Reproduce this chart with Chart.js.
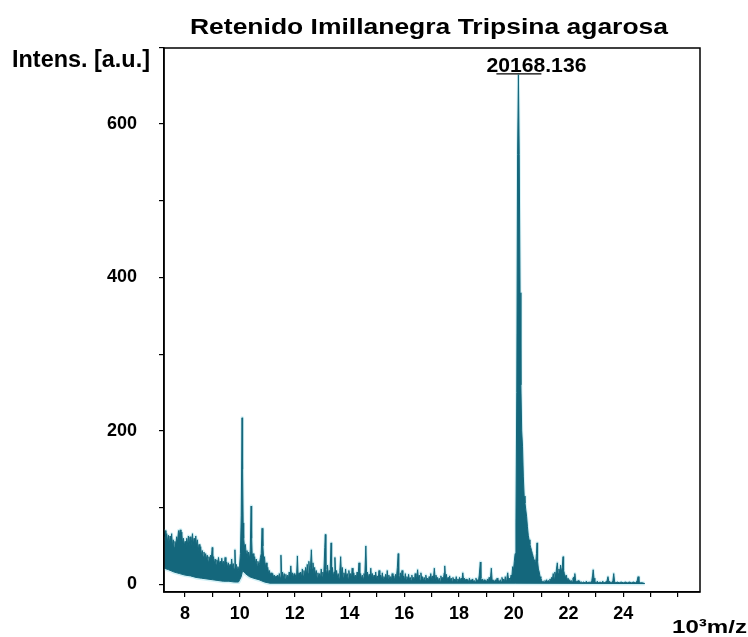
<!DOCTYPE html>
<html>
<head>
<meta charset="utf-8">
<script src="https://cdn.jsdelivr.net/npm/chart.js@4.4.1/dist/chart.umd.min.js"></script>
<style>
  html, body { margin: 0; padding: 0; background: #fff; }
  #wrap { width: 748px; height: 637px; }
</style>
</head>
<body>
<div id="wrap"><canvas id="spectrum" width="748" height="637"></canvas></div>
<script>
// spectrum: upper trace (max) and lower trace (min) of the signal
const upperMz = [
  7.24, 7.27, 7.30, 7.33, 7.36, 7.39, 7.42, 7.45, 7.48, 7.51, 7.54, 7.57, 7.60, 7.63, 7.66, 7.69,
  7.72, 7.76, 7.79, 7.82, 7.85, 7.88, 7.91, 7.94, 7.97, 8.00, 8.03, 8.06, 8.09, 8.12, 8.15, 8.18,
  8.21, 8.24, 8.27, 8.30, 8.33, 8.36, 8.39, 8.42, 8.45, 8.48, 8.51, 8.54, 8.57, 8.60, 8.63, 8.66,
  8.69, 8.72, 8.75, 8.78, 8.81, 8.84, 8.87, 8.90, 8.93, 8.96, 8.99, 9.01, 9.04, 9.07, 9.10, 9.13,
  9.16, 9.19, 9.22, 9.25, 9.28, 9.31, 9.34, 9.37, 9.40, 9.43, 9.46, 9.49, 9.52, 9.55, 9.58, 9.61,
  9.64, 9.67, 9.70, 9.73, 9.76, 9.79, 9.82, 9.84, 9.87, 9.90, 9.93, 9.96, 9.99, 10.02, 10.05, 10.08,
  10.10, 10.12, 10.14, 10.17, 10.20, 10.23, 10.26, 10.29, 10.32, 10.35, 10.38, 10.41, 10.43, 10.45, 10.48, 10.51,
  10.54, 10.57, 10.60, 10.63, 10.66, 10.69, 10.72, 10.75, 10.78, 10.81, 10.84, 10.87, 10.90, 10.93, 10.96, 10.99,
  11.02, 11.05, 11.08, 11.11, 11.14, 11.17, 11.20, 11.23, 11.26, 11.29, 11.32, 11.35, 11.38, 11.41, 11.44, 11.47,
  11.50, 11.53, 11.56, 11.59, 11.62, 11.65, 11.68, 11.71, 11.74, 11.77, 11.80, 11.83, 11.86, 11.89, 11.92, 11.95,
  11.98, 12.01, 12.04, 12.07, 12.10, 12.13, 12.16, 12.19, 12.22, 12.25, 12.28, 12.31, 12.34, 12.37, 12.40, 12.43,
  12.46, 12.49, 12.52, 12.55, 12.58, 12.61, 12.64, 12.67, 12.70, 12.73, 12.76, 12.79, 12.82, 12.85, 12.88, 12.91,
  12.94, 12.97, 13.00, 13.03, 13.06, 13.10, 13.12, 13.14, 13.17, 13.20, 13.23, 13.26, 13.29, 13.33, 13.35, 13.38,
  13.41, 13.44, 13.47, 13.50, 13.53, 13.56, 13.59, 13.62, 13.65, 13.68, 13.71, 13.74, 13.77, 13.80, 13.83, 13.86,
  13.89, 13.92, 13.95, 13.98, 14.01, 14.04, 14.07, 14.10, 14.13, 14.16, 14.19, 14.22, 14.25, 14.28, 14.31, 14.35,
  14.38, 14.41, 14.44, 14.47, 14.50, 14.53, 14.56, 14.60, 14.63, 14.66, 14.69, 14.72, 14.75, 14.78, 14.81, 14.84,
  14.87, 14.90, 14.93, 14.96, 14.99, 15.02, 15.05, 15.08, 15.11, 15.14, 15.17, 15.20, 15.23, 15.26, 15.29, 15.32,
  15.35, 15.38, 15.41, 15.44, 15.47, 15.50, 15.53, 15.56, 15.59, 15.62, 15.65, 15.68, 15.71, 15.75, 15.78, 15.80,
  15.83, 15.86, 15.89, 15.92, 15.95, 15.98, 16.01, 16.04, 16.07, 16.10, 16.13, 16.16, 16.19, 16.22, 16.25, 16.28,
  16.31, 16.34, 16.37, 16.40, 16.43, 16.46, 16.49, 16.52, 16.55, 16.58, 16.61, 16.64, 16.67, 16.70, 16.73, 16.76,
  16.79, 16.82, 16.85, 16.88, 16.91, 16.94, 16.97, 17.00, 17.03, 17.06, 17.10, 17.13, 17.16, 17.19, 17.22, 17.25,
  17.28, 17.31, 17.34, 17.37, 17.40, 17.43, 17.46, 17.48, 17.51, 17.54, 17.57, 17.60, 17.63, 17.66, 17.69, 17.72,
  17.75, 17.78, 17.81, 17.84, 17.87, 17.90, 17.93, 17.96, 17.99, 18.02, 18.05, 18.08, 18.11, 18.14, 18.17, 18.20,
  18.23, 18.26, 18.29, 18.32, 18.35, 18.38, 18.41, 18.44, 18.47, 18.50, 18.53, 18.56, 18.59, 18.62, 18.65, 18.68,
  18.71, 18.74, 18.78, 18.80, 18.83, 18.86, 18.89, 18.92, 18.95, 18.98, 19.01, 19.04, 19.07, 19.10, 19.13, 19.16,
  19.18, 19.21, 19.24, 19.27, 19.30, 19.33, 19.36, 19.39, 19.42, 19.45, 19.48, 19.51, 19.54, 19.57, 19.60, 19.63,
  19.66, 19.69, 19.72, 19.75, 19.78, 19.81, 19.84, 19.87, 19.90, 19.93, 19.96, 19.99, 20.02, 20.05, 20.08, 20.11,
  20.14, 20.17, 20.20, 20.23, 20.26, 20.29, 20.32, 20.35, 20.38, 20.41, 20.44, 20.47, 20.50, 20.53, 20.56, 20.59,
  20.62, 20.65, 20.68, 20.71, 20.74, 20.77, 20.80, 20.83, 20.85, 20.87, 20.90, 20.93, 20.96, 20.99, 21.02, 21.05,
  21.08, 21.11, 21.14, 21.17, 21.20, 21.23, 21.26, 21.29, 21.32, 21.35, 21.38, 21.41, 21.44, 21.47, 21.50, 21.53,
  21.56, 21.59, 21.62, 21.65, 21.68, 21.71, 21.74, 21.77, 21.80, 21.82, 21.85, 21.88, 21.92, 21.95, 21.98, 22.01,
  22.04, 22.07, 22.10, 22.13, 22.16, 22.20, 22.23, 22.26, 22.29, 22.32, 22.35, 22.38, 22.41, 22.44, 22.47, 22.50,
  22.55, 22.60, 22.65, 22.70, 22.75, 22.80, 22.85, 22.88, 22.90, 22.93, 22.96, 23.00, 23.05, 23.10, 23.15, 23.20,
  23.25, 23.30, 23.35, 23.40, 23.44, 23.47, 23.52, 23.57, 23.62, 23.65, 23.68, 23.73, 23.78, 23.85, 23.92, 24.00,
  24.08, 24.15, 24.22, 24.30, 24.37, 24.44, 24.50, 24.54, 24.57, 24.63, 24.70, 24.78
];
const upperInt = [
  62, 70, 58, 66, 55, 64, 52, 63, 57, 66, 50, 58, 48, 56, 50, 62,
  55, 70, 64, 71, 58, 68, 52, 60, 50, 56, 47, 60, 52, 63, 50, 62,
  48, 58, 66, 52, 60, 48, 63, 50, 58, 44, 52, 40, 49, 38, 44, 36,
  42, 34, 40, 33, 38, 30, 36, 31, 38, 34, 48, 33, 36, 27, 33, 26,
  32, 27, 35, 26, 30, 24, 34, 25, 30, 23, 35, 26, 29, 22, 28, 21,
  26, 20, 33, 22, 27, 20, 45, 24, 26, 20, 23, 18, 25, 40, 90, 217,
  150, 80, 60, 48, 52, 40, 44, 35, 42, 33, 45, 102, 60, 38, 40, 30,
  36, 27, 33, 25, 30, 24, 28, 35, 40, 73, 50, 32, 36, 22, 28, 18,
  22, 14, 18, 12, 15, 10, 14, 9, 12, 8, 11, 7, 12, 8, 14, 9,
  38, 10, 16, 8, 14, 7, 13, 6, 12, 7, 16, 8, 24, 9, 15, 8,
  14, 7, 12, 10, 37, 9, 15, 8, 16, 9, 20, 11, 18, 10, 22, 12,
  26, 14, 30, 16, 24, 45, 20, 28, 14, 22, 12, 18, 9, 15, 8, 14,
  7, 20, 10, 16, 9, 48, 65, 20, 12, 25, 11, 18, 10, 54, 15, 22,
  10, 16, 35, 12, 18, 9, 14, 8, 18, 36, 12, 22, 9, 15, 8, 20,
  10, 14, 8, 18, 9, 14, 7, 21, 9, 15, 8, 12, 7, 16, 8, 28,
  10, 14, 7, 12, 8, 14, 10, 50, 12, 16, 8, 13, 7, 21, 8, 14,
  7, 12, 6, 16, 7, 11, 6, 18, 7, 12, 6, 15, 7, 10, 6, 13,
  5, 18, 7, 12, 6, 10, 5, 14, 6, 11, 5, 13, 6, 22, 40, 12,
  7, 15, 6, 18, 7, 11, 5, 14, 6, 10, 5, 13, 6, 9, 5, 12,
  5, 9, 4, 14, 5, 10, 19, 7, 12, 5, 15, 6, 10, 4, 9, 5,
  12, 5, 8, 4, 10, 5, 14, 6, 11, 5, 21, 8, 12, 5, 9, 4,
  8, 4, 11, 5, 9, 6, 15, 24, 8, 13, 5, 9, 4, 11, 5, 8,
  4, 9, 4, 7, 4, 10, 4, 7, 4, 9, 5, 8, 6, 15, 5, 8,
  4, 7, 3, 6, 3, 8, 3, 6, 3, 7, 3, 5, 3, 8, 4, 6,
  4, 12, 29, 8, 4, 7, 3, 6, 3, 5, 3, 7, 3, 9, 4, 12,
  21, 6, 3, 5, 3, 6, 3, 8, 3, 5, 3, 6, 3, 9, 4, 7,
  3, 10, 5, 9, 15, 6, 8, 5, 12, 10, 23, 18, 30, 40, 80, 250,
  560, 664, 560, 380, 260, 200, 180, 140, 115, 106, 97, 88, 75, 64, 58, 52,
  48, 44, 40, 36, 32, 30, 28, 40, 54, 30, 20, 16, 10, 8, 5, 3,
  4, 3, 5, 3, 6, 3, 5, 4, 7, 5, 9, 6, 14, 8, 16, 10,
  20, 28, 14, 20, 15, 25, 16, 22, 36, 18, 14, 10, 12, 6, 8, 4,
  6, 3, 5, 3, 8, 10, 14, 5, 4, 3, 5, 2, 4, 2, 3, 2,
  3, 2, 4, 2, 3, 2, 5, 12, 19, 8, 3, 2, 4, 2, 3, 2,
  4, 2, 3, 4, 10, 4, 3, 2, 5, 14, 4, 2, 3, 2, 3, 2,
  3, 2, 3, 2, 3, 2, 4, 10, 3, 2, 2, 1
];
const lowerMz = [7.24, 7.40, 7.60, 7.80, 8.00, 8.20, 8.40, 8.60, 8.80, 9.00, 9.20, 9.40, 9.60, 9.80, 9.95,
  10.05, 10.10, 10.20, 10.35, 10.50, 10.70, 10.90, 11.10, 20.05, 24.78];
const lowerInt = [21, 19, 16, 14, 12, 11, 9, 8, 7, 6, 5, 4, 4, 3, 3,
  10, 18, 14, 10, 8, 6, 3, 1.5, 1.5, 1];

const xTicks = [8, 9, 10, 11, 12, 13, 14, 15, 16, 17, 18, 19, 20, 21, 22, 23, 24, 25, 26];
const yTicks = [0, 100, 200, 300, 400, 500, 600, 700];
const peakMz = 20.17;
const peakInt = 664;
const peakLabel = "20168.136";

const teal = "#14677c";
const glow = "#d4f1f6";
const upperPts = upperMz.map((m, i) => ({ x: m, y: upperInt[i] }));
const lowerPts = lowerMz.map((m, i) => ({ x: m, y: lowerInt[i] }));
const tickFont = { family: "'Liberation Sans', Arial, sans-serif", size: 18, weight: "bold" };

function fitText(ctx, text, left, baseline, width, font) {
    ctx.save();
    ctx.font = font;
    const w = ctx.measureText(text).width;
    ctx.translate(left, baseline);
    ctx.scale(width / w, 1);
    ctx.textAlign = "left";
    ctx.textBaseline = "alphabetic";
    ctx.fillStyle = "#000";
    ctx.fillText(text, 0, 0);
    ctx.restore();
}

const decor = {
    id: "decor",
    afterDraw(chart) {
        const ctx = chart.ctx;
        const a = chart.chartArea;
        ctx.save();
        ctx.strokeStyle = "#000";
        ctx.lineWidth = 1.5;
        ctx.strokeRect(a.left, a.top, a.right - a.left, a.bottom - a.top);

        const f = "'Liberation Sans', Arial, sans-serif";
        fitText(ctx, "Retenido Imillanegra Tripsina agarosa", 190, 34, 478, "bold 22px " + f);
        fitText(ctx, "Intens. [a.u.]", 12, 67, 138, "bold 23px " + f);
        fitText(ctx, "10³m/z", 672, 633, 75, "bold 19px " + f);

        // peak annotation
        const px = chart.scales.x.getPixelForValue(peakMz);
        const py = chart.scales.y.getPixelForValue(peakInt);
        fitText(ctx, peakLabel, px - 32, py - 3, 100, "bold 21px " + f);
        ctx.strokeStyle = "#000";
        ctx.lineWidth = 1.2;
        ctx.beginPath();
        ctx.moveTo(px - 22, py - 1);
        ctx.lineTo(px + 23, py - 1);
        ctx.stroke();
        ctx.restore();
    }
};

new Chart(document.getElementById("spectrum").getContext("2d"), {
    type: "line",
    data: {
        datasets: [
            { data: upperPts, borderColor: teal, borderWidth: 1, fill: "+1", backgroundColor: teal, order: 1 },
            { data: lowerPts, borderColor: teal, borderWidth: 1, fill: false, order: 2 },
            { data: upperPts, borderColor: glow, borderWidth: 3, fill: false, order: 3 },
            { data: lowerPts, borderColor: glow, borderWidth: 4, fill: false, order: 4 },
        ],
    },
    options: {
        responsive: false,
        animation: false,
        events: [],
        elements: { point: { radius: 0 }, line: { tension: 0, borderJoinStyle: "round" } },
        layout: { padding: { left: 0, top: 48, right: 48, bottom: 0 } },
        plugins: { legend: { display: false }, tooltip: { enabled: false }, title: { display: false } },
        scales: {
            x: {
                type: "linear",
                min: 7.23,
                max: 26.8,
                afterBuildTicks: (s) => { s.ticks = xTicks.map((v) => ({ value: v })); },
                afterFit: (s) => { s.height = 45; },
                grid: { drawOnChartArea: false, drawTicks: true, tickLength: 5, color: "#000", lineWidth: 1.2 },
                border: { display: true, color: "#000", width: 1.5 },
                ticks: {
                    autoSkip: false,
                    maxRotation: 0,
                    padding: 6,
                    color: "#000",
                    font: tickFont,
                    callback: (v) => (v % 2 === 0 && v <= 24 ? String(v) : ""),
                },
            },
            y: {
                min: -10,
                max: 699,
                afterBuildTicks: (s) => { s.ticks = yTicks.map((v) => ({ value: v })); },
                afterFit: (s) => { s.width = 164; },
                grid: { drawOnChartArea: false, drawTicks: true, tickLength: 5, color: "#000", lineWidth: 1.2 },
                border: { display: true, color: "#000", width: 1.5 },
                ticks: {
                    autoSkip: false,
                    padding: 22,
                    color: "#000",
                    font: tickFont,
                    callback: (v) => (v % 200 === 0 && v <= 600 ? String(v) : ""),
                },
            },
        },
    },
    plugins: [decor],
});
</script>
</body>
</html>
